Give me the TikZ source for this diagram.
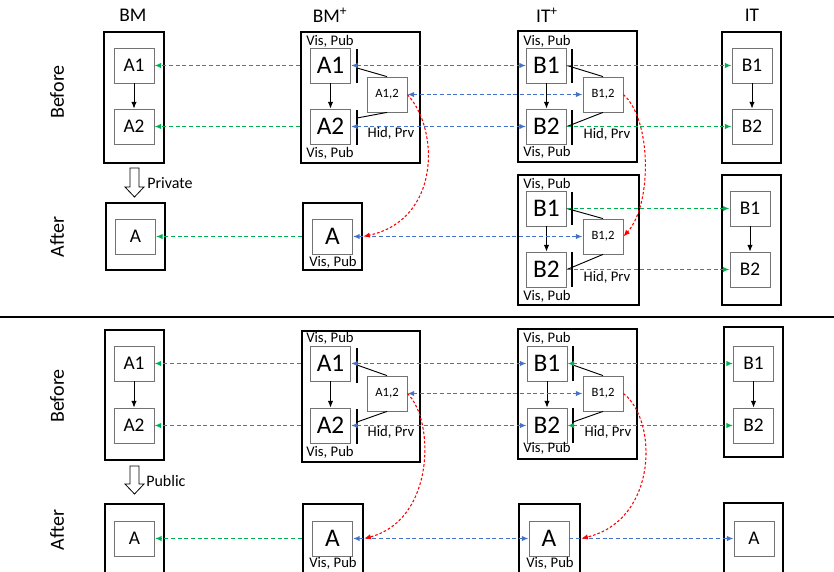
\documentclass[tikz,border=0pt]{standalone}
\usepackage{fontspec}
\setmainfont{Carlito}
\usetikzlibrary{arrows.meta,fit,calc}
\definecolor{cgreen}{HTML}{00B050}
\definecolor{cblue}{HTML}{4472C4}
\begin{document}
\begin{tikzpicture}[x=0.75pt,y=-0.75pt,
  >={Latex[length=5pt,width=4pt]},
  inbox/.style={draw=black!55, line width=0.6pt, minimum width=30pt, minimum height=26.25pt, inner sep=0pt, font=\fontsize{14.5}{16}\selectfont},
  bigbox/.style={inbox, font=\fontsize{19}{21}\selectfont},
  hbox/.style={inbox, font=\fontsize{9.5}{11}\selectfont},
  outer/.style={draw, line width=1.8pt, inner sep=0pt},
  lbl/.style={font=\fontsize{11}{13}\selectfont, inner sep=0pt},
  head/.style={font=\fontsize{14.5}{16}\selectfont, inner sep=0pt},
  rowlbl/.style={font=\fontsize{15}{17}\selectfont, inner sep=0pt, rotate=90},
  barline/.style={line width=2pt},
  thinline/.style={line width=0.7pt},
  flow/.style={line width=0.7pt, ->},
  gline/.style={cgreen, line width=1pt, dash pattern=on 3pt off 2pt, ->},
  ggline/.style={cgreen, line width=1pt, dash pattern=on 3pt off 2pt, <->},
  bline/.style={cblue, line width=1pt, dash pattern=on 3pt off 2pt, <->},
  b1line/.style={cblue, line width=1pt, dash pattern=on 3pt off 2pt, ->},
  rline/.style={red, line width=0.8pt, dash pattern=on 2pt off 1.5pt, ->},
  hollow/.style={draw, line width=0.6pt, fill=white}
]
\useasboundingbox (0,0) rectangle (834,571);
\clip (0,0) rectangle (834,571);

% headers
\node[head] (hBM) at (133,15) {BM};
\node[head] (hBP) at (330,15) {BM\textsuperscript{+}};
\node[head] (hITP) at (547,15) {IT\textsuperscript{+}};
\node[head] (hIT) at (752,15) {IT};

\node[rowlbl] (rl1) at (57,92) {Before};
\node[rowlbl] (rl2) at (57,237) {After};
\node[rowlbl] (rl3) at (57,396) {Before};
\node[rowlbl] (rl4) at (57,530) {After};

\draw[line width=1.1pt] (0,317) -- (834,317);

%%%%%%%%%%%% TOP BEFORE
\node[outer, fit={(104,32)(164,163)}] (tBMo) {};
\node[inbox] (tBMa1) at (134,65.5) {A1};
\node[inbox] (tBMa2) at (134,126.5) {A2};
\draw[flow] (tBMa1) -- (tBMa2);

\node[outer, fit={(301,32)(420,163)}] (tBPo) {};
\node[bigbox] (tBPa1) at (330.5,65.5) {A1};
\node[bigbox] (tBPa2) at (330.5,126.5) {A2};
\node[hbox] (tBPa12) at (387,94.5) {A1,2};
\draw[barline] (357,49) -- (357,83);
\draw[barline] (357,110) -- (357,145);
\coordinate (tBPb1) at (357,68);
\coordinate (tBPb2) at (357,118);
\draw[thinline] (tBPb1) -- (tBPa12.north);
\draw[thinline] (tBPa12.south) -- (tBPb2);
\draw[flow] (tBPa1) -- (tBPa2);
\node[lbl] (tBPl1) at (330,41) {Vis, Pub};
\node[lbl] (tBPl2) at (330,153) {Vis, Pub};
\node[lbl] (tBPl3) at (391,133) {Hid, Prv};

\node[outer, fit={(518,31)(637,162)}] (tITPo) {};
\node[bigbox] (tITPb1) at (546.5,65.5) {B1};
\node[bigbox] (tITPb2) at (546.5,126.5) {B2};
\node[hbox] (tITPb12) at (603,94.5) {B1,2};
\draw[barline] (572,49) -- (572,83);
\draw[barline] (572,110) -- (572,145);
\draw[thinline] (tITPb1.east) -- (tITPb12.north);
\draw[thinline] (tITPb12.south) -- (tITPb2.east);
\draw[flow] (tITPb1) -- (tITPb2);
\node[lbl] (tITPl1) at (547,41) {Vis, Pub};
\node[lbl] (tITPl2) at (547,152) {Vis, Pub};
\node[lbl] (tITPl3) at (607,134) {Hid, Prv};

\node[outer, fit={(722,32)(781,163)}] (tITo) {};
\node[inbox] (tITb1) at (752,65.5) {B1};
\node[inbox] (tITb2) at (752,126.5) {B2};
\draw[flow] (tITb1) -- (tITb2);

\draw[gline] (tBPo.west |- tBPa1) -- (tBMa1.east);
\draw[gline] (tBPo.west |- tBPa2) -- (tBMa2.east);
\draw[bline] (tBPa1.east) -- (tITPb1.west);
\draw[bline] (tBPa12.east) -- (tITPb12.west);
\draw[bline] (tBPa2.east) -- (tITPb2.west);
\draw[gline] (tITPb1.east) -- (tITb1.west);
\draw[gline] (tITPb2.east) -- (tITb2.west);

% Private arrow
\draw[hollow] (130,168) -- (139,168) -- (139,187) -- (144,187) -- (134.5,197) -- (125,187) -- (130,187) -- cycle;
\node[lbl, anchor=west, font=\fontsize{12}{14}\selectfont] (tpriv) at (147,183) {Private};

%%%%%%%%%%%% TOP AFTER
\node[outer, fit={(106,203)(165,270)}] (aBMo) {};
\node[inbox] (aBMa) at (135.5,236.5) {A};

\node[outer, fit={(303,203)(362,270)}] (aBPo) {};
\node[bigbox] (aBPa) at (332.5,236.5) {A};
\node[lbl] (aBPl) at (333,262) {Vis, Pub};

\node[outer, fit={(518,175)(639,305)}] (aITPo) {};
\node[bigbox] (aITPb1) at (546.5,208.5) {B1};
\node[bigbox] (aITPb2) at (546.5,269.5) {B2};
\node[hbox] (aITPb12) at (603,236.5) {B1,2};
\draw[barline] (572,192) -- (572,225);
\draw[barline] (572,252) -- (572,287);
\draw[thinline] (aITPb1.east) -- (aITPb12.north);
\draw[thinline] (aITPb12.south) -- (aITPb2.east);
\draw[flow] (aITPb1) -- (aITPb2);
\node[lbl] (aITPl1) at (547,184) {Vis, Pub};
\node[lbl] (aITPl2) at (547,296) {Vis, Pub};
\node[lbl] (aITPl3) at (607,277) {Hid, Prv};

\node[outer, fit={(722,175)(781,305)}] (aITo) {};
\node[inbox] (aITb1) at (750,208.5) {B1};
\node[inbox] (aITb2) at (750,269.5) {B2};
\draw[flow] (aITb1) -- (aITb2);

\draw[gline] (aBPo.west |- aBPa) -- (aBMa.east);
\draw[bline] (aBPa.east) -- (aITPb12.west);
\draw[gline] (aITPb1.east) -- (aITb1.west);
\draw[gline] (aITPb2.east) -- (aITb2.west);
\draw[rline] (tBPa12.east) .. controls (440,130) and (440,220) .. (aBPo.east |- aBPa);
\draw[rline] (tITPb12.east) .. controls (652,120) and (652,205) .. (aITPb12.east);

%%%%%%%%%%%% BOTTOM BEFORE
\node[outer, fit={(105,330)(164,460)}] (cBMo) {};
\node[inbox] (cBMa1) at (134,363.5) {A1};
\node[inbox] (cBMa2) at (134,425.5) {A2};
\draw[flow] (cBMa1) -- (cBMa2);

\node[outer, fit={(302,331)(420,462)}] (cBPo) {};
\node[bigbox] (cBPa1) at (330.5,363.5) {A1};
\node[bigbox] (cBPa2) at (330.5,425.5) {A2};
\node[hbox] (cBPa12) at (387,393.5) {A1,2};
\draw[barline] (357,348) -- (357,383);
\draw[barline] (357,409) -- (357,444);
\coordinate (cBPb1) at (357,365);
\coordinate (cBPb2) at (357,422);
\draw[thinline] (cBPb1) -- (cBPa12.north);
\draw[thinline] (cBPa12.south) -- (cBPb2);
\draw[flow] (cBPa1) -- (cBPa2);
\node[lbl] (cBPl1) at (330,338) {Vis, Pub};
\node[lbl] (cBPl2) at (330,452) {Vis, Pub};
\node[lbl] (cBPl3) at (391,432) {Hid, Prv};

\node[outer, fit={(518,329)(637,459)}] (cITPo) {};
\node[bigbox] (cITPb1) at (547,363.5) {B1};
\node[bigbox] (cITPb2) at (547,425.5) {B2};
\node[hbox] (cITPb12) at (603,393.5) {B1,2};
\draw[barline] (573,346) -- (573,381);
\draw[barline] (573,408) -- (573,443);
\coordinate (cITPc1) at (573,365);
\coordinate (cITPc2) at (573,422);
\draw[thinline] (cITPc1) -- (cITPb12.north);
\draw[thinline] (cITPb12.south) -- (cITPc2);
\draw[flow] (cITPb1) -- (cITPb2);
\node[lbl] (cITPl1) at (547,338) {Vis, Pub};
\node[lbl] (cITPl2) at (547,448) {Vis, Pub};
\node[lbl] (cITPl3) at (608,432) {Hid, Prv};

\node[outer, fit={(724,327)(783,457)}] (cITo) {};
\node[inbox] (cITb1) at (753.5,363.5) {B1};
\node[inbox] (cITb2) at (753.5,425.5) {B2};
\draw[flow] (cITb1) -- (cITb2);

\draw[gline] (cBPo.west |- cBPa1) -- (cBMa1.east);
\draw[gline] (cBPo.west |- cBPa2) -- (cBMa2.east);
\draw[bline] (cBPa1.east) -- (cITPb1.west);
\draw[bline] (cBPa12.east) -- (cITPb12.west);
\draw[bline] (cBPa2.east) -- (cITPb2.west);
\draw[ggline] (cITPb1.east) -- (cITb1.west);
\draw[ggline] (cITPb2.east) -- (cITb2.west);

% Public arrow
\draw[hollow] (130,466) -- (139,466) -- (139,484) -- (144,484) -- (134.5,494) -- (125,484) -- (130,484) -- cycle;
\node[lbl, anchor=west, font=\fontsize{12}{14}\selectfont] (cpub) at (146,481) {Public};

%%%%%%%%%%%% BOTTOM AFTER
\node[outer, fit={(105,504)(164,590)}] (dBMo) {};
\node[inbox] (dBMa) at (134.5,538.5) {A};

\node[outer, fit={(303,504)(363,590)}] (dBPo) {};
\node[bigbox] (dBPa) at (332.5,538.5) {A};
\node[lbl] (dBPl) at (333,563) {Vis, Pub};

\node[outer, fit={(519,504)(580,590)}] (dITPo) {};
\node[bigbox] (dITPa) at (549,538.5) {A};
\node[lbl] (dITPl) at (550,563) {Vis, Pub};

\node[outer, fit={(724,503)(783,590)}] (dITo) {};
\node[inbox] (dITa) at (754,538.5) {A};

\draw[gline] (dBPo.west |- dBPa) -- (dBMa.east);
\draw[bline] (dBPa.east) -- (dITPa.west);
\draw[b1line] (dITPa.east) -- (dITa.west);
\draw[rline] (cBPa12.east) .. controls (435,420) and (435,520) .. (dBPo.east |- dBPa);
\draw[rline] (cITPb12.east) .. controls (658,420) and (658,520) .. (dITPo.east |- dITPa);

\end{tikzpicture}
\end{document}
